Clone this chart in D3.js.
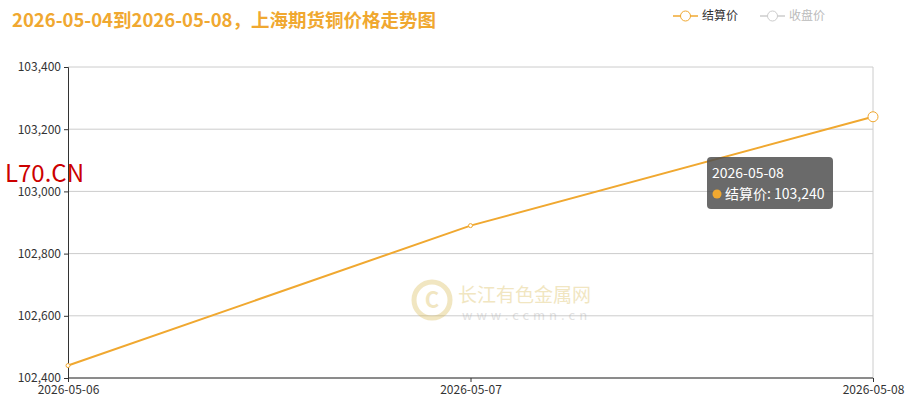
<!DOCTYPE html><html><head><meta charset="utf-8"><script src="https://cdn.jsdelivr.net/npm/d3@7"></script>
<style>body{margin:0;background:#fff}text{font-family:"Microsoft YaHei","Noto Sans CJK SC",sans-serif}</style></head><body>
<svg id="c" width="914" height="405"></svg>
<script>
const dates=["2026-05-06","2026-05-07","2026-05-08"];
const settle=[102440,102890,103240];
const yTicks=[102400,102600,102800,103000,103200,103400];
const title="2026-05-04到2026-05-08，上海期货铜价格走势图";
const legendNames=["结算价","收盘价"];
const svg=d3.select("#c");
const x=d3.scalePoint().domain(dates).range([68,873]);
const y=d3.scaleLinear().domain([102400,103400]).range([378,67]);
const fmt=d3.format(",");
svg.append("text").attr("x",12).attr("y",27).attr("fill","#f0a830").attr("font-size",18.5).attr("font-weight","bold").text(title);
svg.append("g").selectAll("line").data(yTicks).join("line").attr("x1",68).attr("x2",873).attr("y1",d=>y(d)).attr("y2",d=>y(d)).attr("stroke","#ccc");
svg.append("line").attr("x1",873).attr("x2",873).attr("y1",67).attr("y2",378).attr("stroke","#ccc");
const ya=svg.append("g").attr("transform","translate(68,0)").call(d3.axisLeft(y).tickValues(yTicks).tickFormat(fmt).tickSize(4));
ya.selectAll("text").attr("font-size",12).attr("fill","#333");ya.selectAll("line,path").attr("stroke","#333");
const xa=svg.append("g").attr("transform","translate(0,378)").call(d3.axisBottom(x).tickSize(4));
xa.selectAll("text").attr("font-size",12).attr("fill","#333");xa.selectAll("line,path").attr("stroke","#333");
xa.select("path").attr("d","M68,0H873");
const wm=svg.append("g").attr("opacity",0.35);
wm.append("circle").attr("cx",432).attr("cy",300).attr("r",18).attr("fill","none").attr("stroke","#d8b850").attr("stroke-width",5);
wm.append("text").attr("x",432).attr("y",308).attr("text-anchor","middle").attr("font-size",22).attr("font-weight","bold").attr("fill","#d8b850").text("C");
wm.append("text").attr("x",458).attr("y",302).attr("font-size",19).attr("fill","#d8b850").text("长江有色金属网");
wm.append("text").attr("x",462).attr("y",320).attr("font-size",13).attr("fill","#aaa").attr("letter-spacing",4).attr("font-family","serif").text("www.ccmn.cn");
svg.append("text").attr("x",5).attr("y",182).attr("font-size",24).attr("fill","#c00").attr("font-family","Liberation Sans,sans-serif").text("L70.CN");
const pts=dates.map((d,i)=>[x(d),y(settle[i])]);
svg.append("path").attr("d",d3.line()(pts)).attr("fill","none").attr("stroke","#f0a830").attr("stroke-width",2);
svg.selectAll(".pt").data(pts).join("circle").attr("cx",d=>d[0]).attr("cy",d=>d[1]).attr("r",(d,i)=>i==2?5:2).attr("fill","#fff").attr("stroke","#f0a830");
const lg=[[673,"#f0a830","#333"],[760,"#ccc","#bbb"]];
lg.forEach(([lx,c,tc],i)=>{svg.append("line").attr("x1",lx).attr("x2",lx+25).attr("y1",16).attr("y2",16).attr("stroke",c).attr("stroke-width",1.5);
svg.append("circle").attr("cx",lx+12.5).attr("cy",16).attr("r",5).attr("fill","#fff").attr("stroke",c);
svg.append("text").attr("x",lx+29).attr("y",20).attr("font-size",12).attr("fill",tc).text(legendNames[i]);});
const tg=svg.append("g").attr("transform","translate(707,157)");
tg.append("rect").attr("width",126).attr("height",52).attr("rx",4).attr("fill","rgba(80,80,80,0.85)");
tg.append("text").attr("x",5).attr("y",21).attr("fill","#fff").attr("font-size",14).text(dates[2]);
tg.append("circle").attr("cx",10).attr("cy",37).attr("r",4.5).attr("fill","#f0a830");
tg.append("text").attr("x",18).attr("y",42).attr("fill","#fff").attr("font-size",14).text("结算价: "+fmt(settle[2]));
</script></body></html>
